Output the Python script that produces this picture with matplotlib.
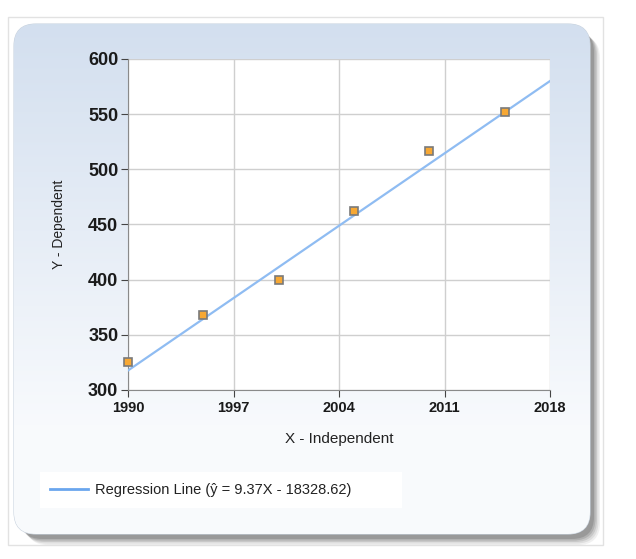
import numpy as np
import matplotlib
matplotlib.use("Agg")
import matplotlib.pyplot as plt
from matplotlib.patches import FancyBboxPatch, Rectangle

# data
years = [1990, 1995, 2000, 2005, 2010, 2015]
values = [325, 368, 400, 462, 517, 552]
slope = 9.37
intercept = -18328.62
x_ticks = [1990, 1997, 2004, 2011, 2018]
y_ticks = [300, 350, 400, 450, 500, 550, 600]

plt.rcParams['font.family'] = ['Liberation Sans', 'DejaVu Sans']

W, H = 636, 559
fig = plt.figure(figsize=(W / 100, H / 100), dpi=100)
fig.patch.set_facecolor('white')

# background panel drawn in pixel coords
bg = fig.add_axes([0, 0, 1, 1])
bg.set_xlim(0, W)
bg.set_ylim(H, 0)
bg.axis('off')

bg.add_patch(Rectangle((8, 17), 595, 528, facecolor='white', edgecolor='#e2e2e2', lw=1))

# soft shadow
for i, a in enumerate([0.07, 0.09, 0.12, 0.15, 0.18]):
    off = 10 - i * 1.5
    bg.add_patch(FancyBboxPatch((16 + off, 26 + off), 574, 509,
                                boxstyle="round,pad=0,rounding_size=22",
                                facecolor='#303030', edgecolor='none', alpha=a))

panel = FancyBboxPatch((14, 24), 576, 510, boxstyle="round,pad=0,rounding_size=22",
                       facecolor='none', edgecolor='#c9d3df', lw=0.8)
bg.add_patch(panel)
grad = np.linspace(0, 1, 256).reshape(-1, 1)
top = np.array([0.827, 0.875, 0.937])
bot = np.array([0.975, 0.982, 0.992])
t = np.clip(grad * 1.25, 0, 1)
cols = top[None, :] + (bot - top)[None, :] * t
img = cols[:, None, :]
im = bg.imshow(img, extent=[14, 590, 534, 24], aspect='auto', zorder=1)
im.set_clip_path(panel)

# legend box
bg.add_patch(Rectangle((40, 472), 362, 36, facecolor='white', edgecolor='none', zorder=2))
bg.plot([50, 88], [489, 489], color='#6aa6ee', lw=2, zorder=3)
bg.text(95, 490, u'Regression Line (\u0177 = 9.37X - 18328.62)', fontsize=10.5,
        va='center', ha='left', color='#222222', zorder=3)

# main plot
ax = fig.add_axes([128 / W, 1 - 390 / H, 422 / W, 331 / H])
ax.set_facecolor('white')
ax.set_xlim(1990, 2018)
ax.set_ylim(300, 600)
ax.set_xticks(x_ticks)
ax.set_yticks(y_ticks)
ax.grid(True, color='#cfcfcf', lw=1)
ax.set_axisbelow(True)
for s in ['top', 'right']:
    ax.spines[s].set_visible(False)
for s in ['left', 'bottom']:
    ax.spines[s].set_color('#8a8a8a')
ax.tick_params(axis='y', labelsize=13, length=5, color='#444444', pad=2)
ax.tick_params(axis='x', labelsize=10.5, length=5, color='#444444', pad=3)
for lab in ax.get_yticklabels() + ax.get_xticklabels():
    lab.set_fontweight('bold')
    lab.set_color('#1a1a1a')

xl = np.array([1990, 2018])
ax.plot(xl, slope * xl + intercept, color='#8fbcf2', lw=1.6, zorder=3)
ax.plot(years, values, 's', ms=6, mfc='#f7a834', mec='#7a7a7a', mew=1.2,
        zorder=4, clip_on=False)

ax.set_xlabel('X - Independent', fontsize=11, color='#222222', labelpad=12)
ax.set_ylabel('Y - Dependent', fontsize=10, color='#222222', labelpad=16)

fig.savefig('out.png', dpi=100)
